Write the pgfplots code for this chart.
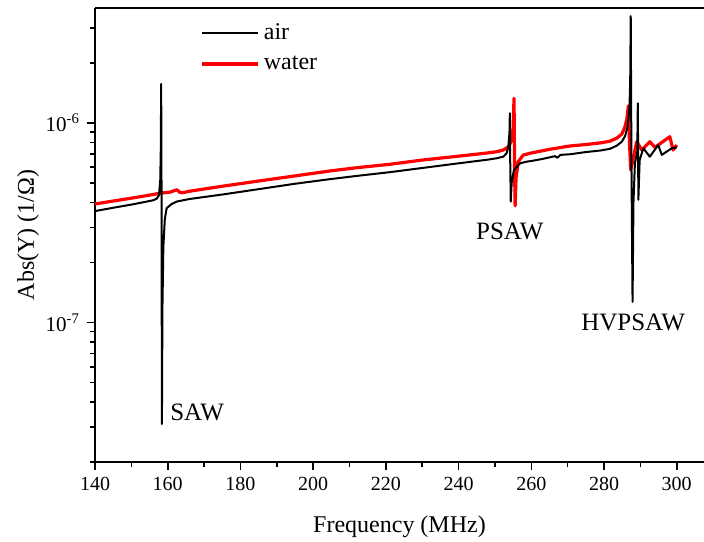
\documentclass[border=0pt]{standalone}
\usepackage{fontspec}
\setmainfont{Liberation Serif}
\usepackage{pgfplots}
\usepackage{pgfplotstable}
\pgfplotsset{compat=1.18}

\pgfplotstableread{
x y
140 3.62e-7
145 3.76e-7
150 3.90e-7
154 4.03e-7
156 4.10e-7
157 4.18e-7
157.6 4.35e-7
157.95 5.2e-7
158.1 7.5e-7
158.2 1.57e-6
158.3 4.5e-7
158.4 3.1e-8
158.55 1.2e-7
158.8 2.4e-7
159.2 3.3e-7
159.7 3.74e-7
161 3.92e-7
162.5 4.04e-7
166 4.16e-7
175 4.38e-7
185 4.66e-7
195 4.96e-7
204.6 5.23e-7
212 5.43e-7
221.1 5.67e-7
230 5.95e-7
240 6.28e-7
248 6.55e-7
250.5 6.66e-7
252.3 6.78e-7
253.2 7.05e-7
253.7 7.6e-7
254.0 9e-7
254.1 1.12e-6
254.2 6.5e-7
254.35 4.04e-7
254.6 5.0e-7
255.2 5.8e-7
256.9 6.28e-7
258.7 6.4e-7
260 6.45e-7
263 6.6e-7
266.5 6.82e-7
267.2 6.7e-7
268 6.92e-7
270.6 6.97e-7
275 7.15e-7
279 7.28e-7
281.6 7.42e-7
283.5 7.7e-7
284.9 8.06e-7
285.8 8.6e-7
286.5 9.6e-7
287.0 1.2e-6
287.2 1.6e-6
287.35 3.43e-6
287.55 6e-7
287.85 1.27e-7
288.1 4.0e-7
288.5 6.3e-7
289.15 7.2e-7
289.3 1.255e-6
289.45 4.12e-7
289.8 6.5e-7
290.8 7.47e-7
292.6 6.78e-7
294.9 7.76e-7
295.9 6.92e-7
298.6 7.47e-7
300 7.55e-7
}\airdata

\pgfplotstableread{
x y
140 3.93e-7
150 4.20e-7
155 4.35e-7
158 4.45e-7
160.6 4.50e-7
161.8 4.58e-7
162.5 4.63e-7
163.3 4.50e-7
164 4.47e-7
166 4.55e-7
175 4.82e-7
185 5.12e-7
195 5.43e-7
204.6 5.75e-7
212 5.97e-7
221.1 6.21e-7
230 6.52e-7
240 6.82e-7
248 7.08e-7
250.5 7.18e-7
252.3 7.32e-7
253.7 7.6e-7
254.6 8.2e-7
255.0 9.5e-7
255.25 1.33e-6
255.4 6e-7
255.55 3.84e-7
255.8 5.3e-7
256.4 6.4e-7
257.8 6.91e-7
259.6 7.05e-7
265 7.38e-7
270.6 7.67e-7
275 7.8e-7
279 7.95e-7
281.6 8.1e-7
283.5 8.4e-7
284.9 8.8e-7
285.7 9.5e-7
286.3 1.05e-6
286.7 1.22e-6
287.0 8e-7
287.35 5.82e-7
289 8.06e-7
290.4 7.32e-7
292.6 8.06e-7
294 7.55e-7
298.1 8.54e-7
299 7.32e-7
300 7.76e-7
}\waterdata

\begin{document}
\begin{tikzpicture}
\begin{axis}[
  scale only axis,
  width=304.5pt, height=227pt,
  xmin=140, xmax=307.5,
  ymode=log, ymin=2e-8, ymax=3.77e-6,
  axis x line*=box, axis y line*=left,
  axis line style={-, line width=0.9pt},
  tick style={line width=0.8pt, black},
  tick align=outside,
  xtick pos=bottom, ytick pos=left,
  xtick={140,160,...,300},
  minor x tick num=1,
  ytick={1e-7,1e-6},
  yticklabels={10\textsuperscript{-7},10\textsuperscript{-6}},
  minor ytick={2e-8,3e-8,4e-8,5e-8,6e-8,7e-8,8e-8,9e-8,2e-7,3e-7,4e-7,5e-7,6e-7,7e-7,8e-7,9e-7,2e-6,3e-6},
  major tick length=4pt, minor tick length=2.5pt,
  /pgf/number format/assume math mode=true,
  xticklabel style={font=\fontsize{10}{12}\selectfont},
  yticklabel style={font=\fontsize{10.5}{12}\selectfont},
  xlabel={Frequency (MHz)},
  ylabel={Abs(Y) (1/Ω)},
  label style={font=\fontsize{12}{14}\selectfont},
  xlabel style={at={(rel axis cs:0.5,-0.143)}, anchor=center},
  ylabel style={at={(rel axis cs:-0.11,0.5)}, anchor=center},
  legend style={at={(rel axis cs:0.163,0.985)}, anchor=north west, draw=none, fill=none,
    font=\fontsize{12}{14}\selectfont, row sep=2.8pt},
  legend cell align=left,
  legend image code/.code={\draw[#1] (0pt,0pt) -- (28pt,0pt);},
  line join=round,
]
\addlegendimage{black, line width=1pt}
\addlegendentry{air}
\addlegendimage{red, line width=1.6pt}
\addlegendentry{water}
\addplot[red, line width=1.6pt, forget plot] table[x=x,y=y] {\waterdata};
\addplot[black, line width=1pt, forget plot] table[x=x,y=y] {\airdata};
\node[anchor=west, inner sep=0pt, font=\fontsize{12.5}{14}\selectfont] at (axis cs:160.6,3.53e-8) {SAW};
\node[font=\fontsize{12.5}{14}\selectfont] at (axis cs:254.1,2.85e-7) {PSAW};
\node[font=\fontsize{12.5}{14}\selectfont] at (axis cs:288,9.97e-8) {HVPSAW};
\coordinate (bbl) at (rel axis cs:-0.156,-0.1762);
\coordinate (btr) at (rel axis cs:1,1.0176);
\end{axis}
\pgfresetboundingbox
\path[use as bounding box] (bbl) rectangle (btr);
\end{tikzpicture}
\end{document}
